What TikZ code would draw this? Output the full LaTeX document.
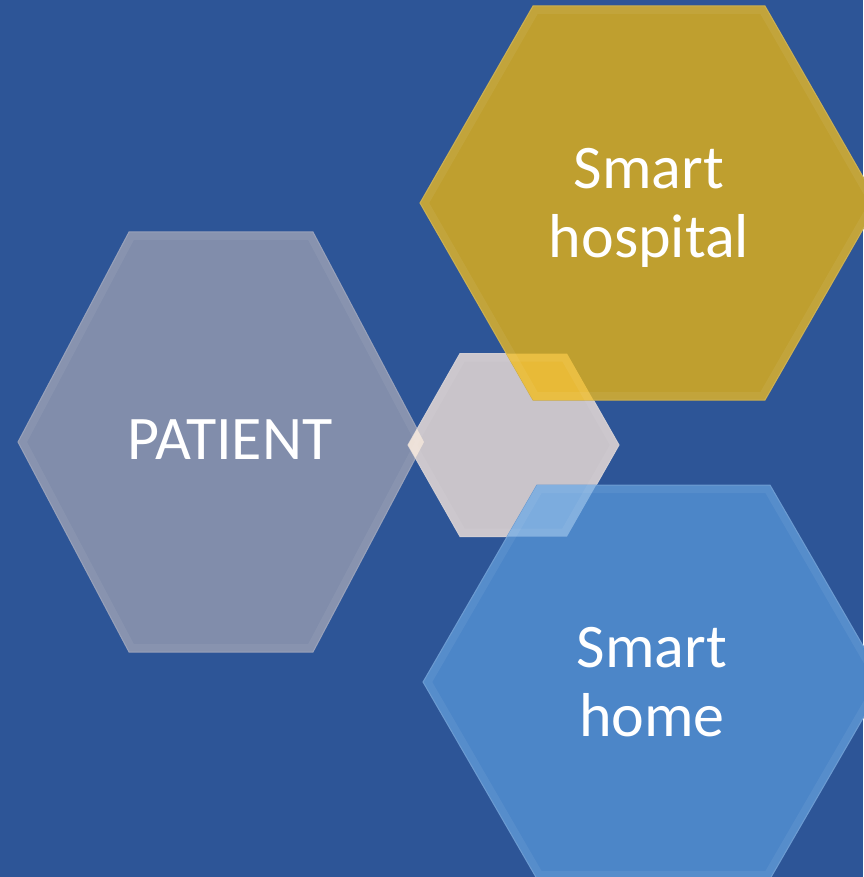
\documentclass[tikz,border=0pt]{standalone}
\usepackage{fontspec}
\setmainfont{Carlito}

\definecolor{bgblue}{RGB}{45,85,151}
\definecolor{patientgray}{RGB}{129,141,171}
\definecolor{hospitalgold}{RGB}{191,159,47}
\definecolor{centergray}{RGB}{201,196,202}
\definecolor{homeblue}{RGB}{76,134,200}
\definecolor{goldover}{RGB}{232,186,55}
\definecolor{blueover}{RGB}{124,172,222}
\definecolor{tipover}{RGB}{236,224,214}

% hexagon: centre x, centre y, half width, half top edge, half height
\newcommand{\hexpath}[5]{(#1-#3,#2) -- (#1-#4,#2-#5) -- (#1+#4,#2-#5) -- (#1+#3,#2) -- (#1+#4,#2+#5) -- (#1-#4,#2+#5) -- cycle}

\tikzset{
  hexbox/.style={fill=#1, draw=#1!85!white, line width=1pt, line join=miter},
  hexlabel/.style={text=white, font=\fontsize{62}{69}\selectfont, align=center, inner sep=0pt}
}

\begin{document}
\begin{tikzpicture}[x=1pt, y=-1pt]
    \fill[bgblue] (0,0) rectangle (863,877);
    \useasboundingbox (0,0) rectangle (863,877);

    \draw[hexbox=patientgray] \hexpath{221}{442}{203}{92}{210};
    \draw[hexbox=centergray] \hexpath{513.5}{445}{105.5}{53.5}{91.5};
    \draw[hexbox=hospitalgold] \hexpath{649}{203}{229}{116}{197};
    \draw[hexbox=homeblue] \hexpath{653.5}{682}{230.5}{116.5}{197};

    % overlaps with the small centre hexagon
    \begin{scope}
        \clip \hexpath{513.5}{445}{105.5}{53.5}{91.5};
        \fill[tipover] \hexpath{221}{442}{203}{92}{210};
        \fill[goldover] \hexpath{649}{203}{229}{116}{197};
        \fill[blueover] \hexpath{653.5}{682}{230.5}{116.5}{197};
    \end{scope}

    % inner bevel band
    \foreach \hx/\hy/\hw/\he/\hh in {221/442/203/92/210, 513.5/445/105.5/53.5/91.5,
        649/203/229/116/197, 653.5/682/230.5/116.5/197} {
        \begin{scope}
            \clip \hexpath{\hx}{\hy}{\hw}{\he}{\hh};
            \draw[white, opacity=0.06, line width=16pt] \hexpath{\hx}{\hy}{\hw}{\he}{\hh};
        \end{scope}
    }

    \node[hexlabel] (patient) at (230,440) {PATIENT};
    \node[hexlabel] (hospital) at (649,208) {Smart\\hospital};
    \node[hexlabel] (home) at (652,682) {Smart\\home};
\end{tikzpicture}
\end{document}
